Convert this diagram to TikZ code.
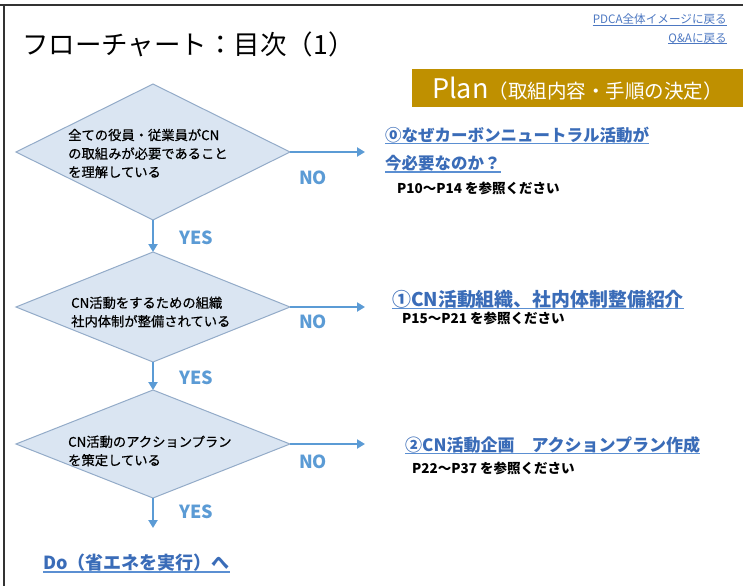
\documentclass[tikz,border=0pt]{standalone}
\usepackage{fontspec}
\setmainfont{Noto Sans CJK JP}
\newfontfamily\diafont{Noto Sans CJK JP}[FakeBold=0.6]
\usepackage{graphicx}
\usetikzlibrary{shapes.geometric,arrows.meta}
\definecolor{diafill}{HTML}{DAE5F2}
\definecolor{diaborder}{HTML}{93ABC8}
\definecolor{arrowblue}{HTML}{5B9BD5}
\definecolor{linkblue}{HTML}{3A6CB8}
\definecolor{ulblue}{HTML}{5B8FD2}
\definecolor{toplink}{HTML}{4D78C2}
\definecolor{plangold}{HTML}{BF9000}
\definecolor{framegray}{HTML}{333333}
\newcommand{\myfs}[2]{\fontsize{#1}{#2}\selectfont}
\begin{document}
\begin{tikzpicture}[x=1pt,y=-1pt,
  dia/.style={diamond, draw=diaborder, fill=diafill, line width=1pt, inner sep=0pt, outer sep=0pt, minimum width=274pt},
  flow/.style={draw=arrowblue, line width=2.6pt, -{Triangle[length=8pt,width=9pt]}},
  yn/.style={inner sep=0pt, text=arrowblue, font=\bfseries\myfs{18}{18}},
  txt/.style={inner sep=0pt, anchor=base west},
  linktxt/.style={txt, text=linkblue},
  ul/.style={draw=ulblue, line width=1.5pt},
  refline/.style={txt, font=\bfseries\myfs{13.5}{13.5}},
  dtext/.style={inner sep=0pt, anchor=west, align=left, font=\diafont\myfs{13.3}{18.5}}
]
\useasboundingbox[fill=white] (0,0) rectangle (743,586);
% frame
\draw[framegray, line width=2pt] (0,5) -- (743,5);
\draw[framegray, line width=1.5pt] (4,5) -- (4,586);

% title and top links
\node[txt, font=\myfs{26.5}{26.5}] (title) at (22,55) {フローチャート：目次（1）};
\node[inner sep=0pt, anchor=base east, text=toplink, font=\myfs{11.6}{11.6}] (pdca) at (727,24) {PDCA全体イメージに戻る};
\node[inner sep=0pt, anchor=base east, text=toplink, font=\myfs{11.6}{11.6}] (qa) at (727,42) {Q\&Aに戻る};
\draw[draw=toplink, line width=0.7pt] ([yshift=-1.5pt]pdca.base west) -- ([yshift=-1.5pt]pdca.base east);
\draw[draw=toplink, line width=0.7pt] ([yshift=-1.5pt]qa.base west) -- ([yshift=-1.5pt]qa.base east);

% plan box
\node[fill=plangold, inner sep=0pt, outer sep=0pt, anchor=north west, minimum width=331pt, minimum height=38pt] (planbox) at (412,69) {};
\node[txt, text=white] (plantext) at (432,98.5) {{\myfs{27}{27}Plan}{\myfs{19.5}{19.5}（取組内容・手順の決定）}};

% diamonds
\node[dia, minimum height=136pt] (d1) at (153,152) {};
\node[dia, minimum height=110pt] (d2) at (153,307) {};
\node[dia, minimum height=108pt] (d3) at (153,444) {};

\node[dtext] (t1) at (68,153.5) {全ての役員・従業員がCN\\の取組みが必要であること\\を理解している};
\node[dtext] (t2) at (71,312) {CN活動をするための組織\\社内体制が整備されている};
\node[dtext] (t3) at (68,451) {CN活動のアクションプラン\\を策定している};

% free arrow ends
\coordinate (n1) at (365,152);
\coordinate (n2) at (365,307);
\coordinate (n3) at (365,444);
\coordinate (e3) at (153,528);

\draw[flow] (d1.east) -- (n1);
\draw[flow] (d2.east) -- (n2);
\draw[flow] (d3.east) -- (n3);
\draw[flow] (d1.south) -- (d2.north);
\draw[flow] (d2.south) -- (d3.north);
\draw[flow] (d3.south) -- (e3);

% YES / NO
\node[yn] (no1) at (313,178) {NO};
\node[yn] (no2) at (313,322) {NO};
\node[yn] (no3) at (313,462) {NO};
\node[yn] (yes1) at (196,238) {YES};
\node[yn] (yes2) at (196,378) {YES};
\node[yn] (yes3) at (196,512) {YES};

% link 0
\node[linktxt, font=\bfseries\myfs{16.5}{16.5}] (l0a) at (385,141) {⓪なぜカーボンニュートラル活動が};
\node[linktxt, font=\bfseries\myfs{16.5}{16.5}] (l0b) at (385,169.5) {今必要なのか？};
\draw[ul] ([yshift=-2.5pt]l0a.base west) -- ([yshift=-2.5pt]l0a.base east);
\draw[ul] ([yshift=-2.5pt]l0b.base west) -- ([yshift=-2.5pt]l0b.base east);
\node[refline] (r0) at (397,193) {P10～P14 を参照ください};

% link 1
\node[linktxt, font=\bfseries\myfs{18.9}{18.9}] (l1) at (392,306) {①CN活動組織、社内体制整備紹介};
\draw[ul] ([yshift=-2.5pt]l1.base west) -- ([yshift=-2.5pt]l1.base east);
\node[refline] (r1) at (402,323) {P15～P21 を参照ください};

% link 2
\node[linktxt, font=\bfseries\myfs{17}{17}] (l2) at (405,451) {②CN活動企画　アクションプラン作成};
\draw[ul] ([yshift=-2.5pt]l2.base west) -- ([yshift=-2.5pt]l2.base east);
\node[refline] (r2) at (412,473) {P22～P37 を参照ください};

% Do link
\node[linktxt, font=\bfseries\myfs{18}{18}] (dolink) at (43,569) {Do（省エネを実行）へ};
\draw[ul] ([yshift=-3pt]dolink.base west) -- ([yshift=-3pt]dolink.base east);
\end{tikzpicture}
\end{document}
